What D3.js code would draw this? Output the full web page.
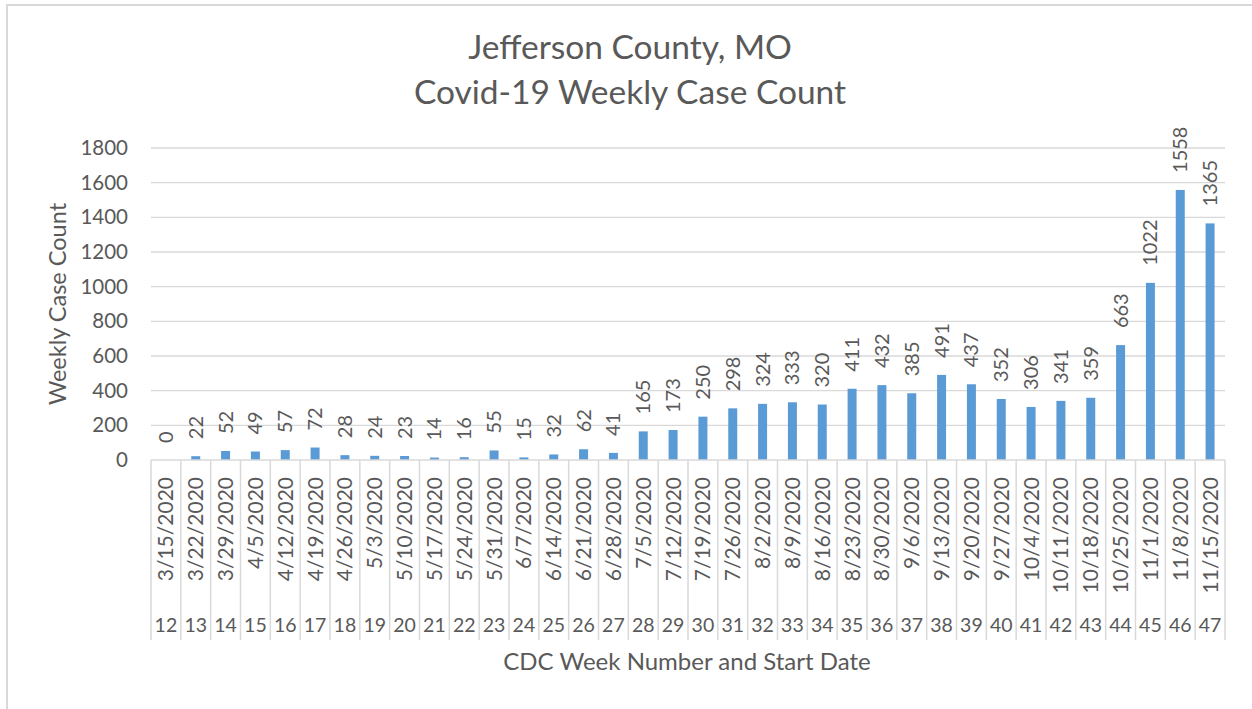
<!DOCTYPE html>
<html>
<head>
<meta charset="utf-8">
<script src="https://cdn.jsdelivr.net/npm/d3@7"></script>
<style>
  body { margin: 0; background: #fff; }
  text { font-family: Lato, "Open Sans", sans-serif; fill: #595959; }
</style>
</head>
<body>
<div id="chart"></div>
<script>
// data
const weeks = [12,13,14,15,16,17,18,19,20,21,22,23,24,25,26,27,28,29,30,31,32,33,34,35,36,37,38,39,40,41,42,43,44,45,46,47];
const dates = ["3/15/2020","3/22/2020","3/29/2020","4/5/2020","4/12/2020","4/19/2020","4/26/2020","5/3/2020",
  "5/10/2020","5/17/2020","5/24/2020","5/31/2020","6/7/2020","6/14/2020","6/21/2020","6/28/2020",
  "7/5/2020","7/12/2020","7/19/2020","7/26/2020","8/2/2020","8/9/2020","8/16/2020","8/23/2020",
  "8/30/2020","9/6/2020","9/13/2020","9/20/2020","9/27/2020","10/4/2020","10/11/2020","10/18/2020",
  "10/25/2020","11/1/2020","11/8/2020","11/15/2020"];
const cases = [0,22,52,49,57,72,28,24,23,14,16,55,15,32,62,41,165,173,250,298,324,333,320,411,432,385,491,437,352,306,341,359,663,1022,1558,1365];
const yTicks = [0,200,400,600,800,1000,1200,1400,1600,1800];

const W = 1252, H = 709;
const plotL = 151, plotR = 1225, plotT = 148, plotB = 460;

const svg = d3.select("#chart").append("svg")
  .attr("width", W).attr("height", H);

// chart border
svg.append("rect")
  .attr("x", 7).attr("y", 5)
  .attr("width", W + 10).attr("height", H + 10)
  .attr("fill", "none").attr("stroke", "#d9d9d9").attr("stroke-width", 2);

const data = weeks.map((w, i) => ({ week: w, date: dates[i], value: cases[i] }));

const x = d3.scaleBand()
  .domain(data.map(d => d.week))
  .range([plotL, plotR])
  .paddingInner(0)
  .paddingOuter(0);

const y = d3.scaleLinear()
  .domain([0, 1800])
  .range([plotB, plotT]);

// gridlines
svg.append("g")
  .selectAll("line")
  .data(yTicks.filter(t => t > 0))
  .enter().append("line")
  .attr("x1", plotL).attr("x2", plotR)
  .attr("y1", d => y(d)).attr("y2", d => y(d))
  .attr("stroke", "#d9d9d9").attr("stroke-width", 1.3);

// y axis labels
const yAxis = svg.append("g")
  .attr("transform", `translate(${plotL},0)`)
  .call(d3.axisLeft(y).tickValues(yTicks).tickFormat(d3.format("d")).tickSize(0).tickPadding(23));
yAxis.select(".domain").remove();
yAxis.selectAll("text")
  .style("font-family", "Lato, sans-serif")
  .style("font-size", "20.5px")
  .attr("fill", "#595959");

// bars
const barW = 9;
svg.append("g")
  .selectAll("rect")
  .data(data)
  .enter().append("rect")
  .attr("x", d => x(d.week) + x.bandwidth() / 2 - barW / 2)
  .attr("y", d => y(d.value))
  .attr("width", barW)
  .attr("height", d => y(0) - y(d.value))
  .attr("fill", "#5b9bd5");

// value labels
svg.append("g")
  .selectAll("text")
  .data(data)
  .enter().append("text")
  .attr("transform", d => `translate(${x(d.week) + x.bandwidth() / 2},${y(d.value) - 17}) rotate(-90)`)
  .attr("dy", "0.35em")
  .style("font-size", "20px")
  .text(d => d.value);

// category axis: baseline and separators
svg.append("line")
  .attr("x1", plotL).attr("x2", plotR)
  .attr("y1", plotB).attr("y2", plotB)
  .attr("stroke", "#d9d9d9").attr("stroke-width", 1.5);

const seps = weeks.map(w => x(w)).concat([plotR]);
svg.append("g")
  .selectAll("line")
  .data(seps)
  .enter().append("line")
  .attr("x1", d => d).attr("x2", d => d)
  .attr("y1", plotB).attr("y2", 640)
  .attr("stroke", "#d9d9d9").attr("stroke-width", 1.5);

// date labels
svg.append("g")
  .selectAll("text")
  .data(data)
  .enter().append("text")
  .attr("transform", d => `translate(${x(d.week) + x.bandwidth() / 2},477) rotate(-90)`)
  .attr("text-anchor", "end")
  .attr("dy", "0.36em")
  .style("font-size", "21px")
  .text(d => d.date);

// week numbers
svg.append("g")
  .selectAll("text")
  .data(data)
  .enter().append("text")
  .attr("x", d => x(d.week) + x.bandwidth() / 2)
  .attr("y", 632)
  .attr("text-anchor", "middle")
  .style("font-size", "19.5px")
  .text(d => d.week);

// axis titles
svg.append("text")
  .attr("x", 687).attr("y", 670)
  .attr("text-anchor", "middle")
  .style("font-size", "24px")
  .text("CDC Week Number and Start Date");

svg.append("text")
  .attr("transform", "translate(66,304) rotate(-90)")
  .attr("text-anchor", "middle")
  .style("font-size", "23.5px")
  .text("Weekly Case Count");

// title
const title = svg.append("text")
  .attr("text-anchor", "middle")
  .style("font-size", "33.5px");
title.append("tspan").attr("x", 630).attr("y", 59).text("Jefferson County, MO");
title.append("tspan").attr("x", 630).attr("y", 104).text("Covid-19 Weekly Case Count");
</script>
</body>
</html>
